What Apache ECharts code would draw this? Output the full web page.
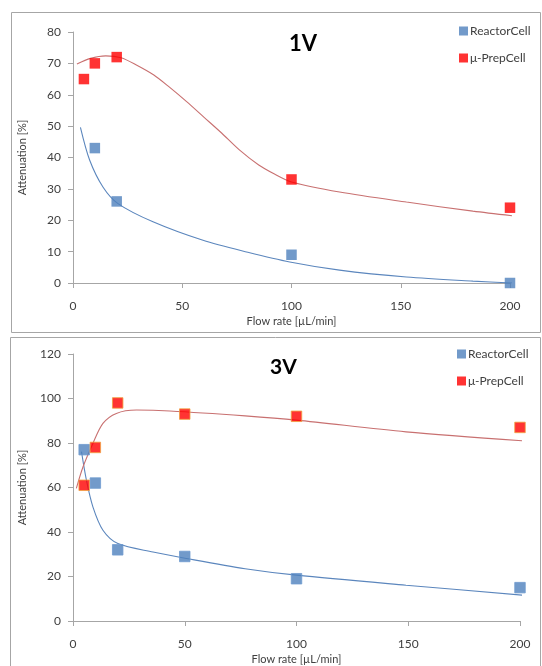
<!DOCTYPE html>
<html>
<head>
<meta charset="utf-8">
<script src="https://cdn.jsdelivr.net/npm/echarts@6/dist/echarts.min.js"></script>
<style>
  html, body { margin: 0; padding: 0; background: #fff; }
  #chart { width: 542px; height: 666px; }
</style>
</head>
<body>
<div id="chart"></div>
<script>
// ---- 1V panel: measured points ----
const flow1Reactor = [10, 20, 100, 200];
const att1Reactor = [43, 26, 9, 0];
const flow1Prep = [5, 10, 20, 100, 200];
const att1Prep = [65, 70, 72, 33, 24];

// 1V trend curves (sampled along the fitted lines)
const trend1ReactorX = [3.4, 7.6, 13.7, 20.6, 36.6, 59.5, 80, 99.2, 122, 152.6, 183, 201.4];
const trend1ReactorY = [49.6, 39.2, 30.6, 25.3, 19.5, 13.6, 9.8, 6.7, 4.1, 1.9, 0.6, 0];
const trend1PrepX = [1.8, 8, 15, 22, 29, 37, 44, 52, 60, 68, 76, 85, 92, 100, 122, 152.6, 183, 201.4];
const trend1PrepY = [69.8, 71.6, 72.4, 71.8, 69.5, 66.3, 62.5, 57.8, 52.8, 47.8, 42.5, 37.6, 34.8, 32.2, 29, 25.8, 22.9, 21.4];

// ---- 3V panel: measured points ----
const flow3 = [5, 10, 20, 50, 100, 200];
const att3Reactor = [77, 62, 32, 29, 19, 15];
const att3Prep = [61, 78, 98, 93, 92, 87];

// 3V trend curves (sampled along the fitted lines)
const trend3ReactorX = [3.8, 6, 8.9, 13.4, 20.1, 35.8, 50.7, 77, 100, 149, 201.3];
const trend3ReactorY = [76.1, 63.3, 51.3, 40.8, 34.8, 31, 28.1, 23.5, 20.6, 16.1, 11.6];
const trend3PrepX = [1.5, 4.5, 8.9, 13.4, 19.4, 28.4, 43.3, 77, 100, 149, 201.3];
const trend3PrepY = [59.6, 69.3, 79.8, 88.8, 93.3, 94.8, 94.4, 92.2, 90.3, 85, 81];

const xTicks = [0, 50, 100, 150, 200];
const seriesNames = ['ReactorCell', 'μ-PrepCell'];

const BLUE = '#4f81bd';
const RED = '#ff0000';
const BLUE_LINE = '#5b86bd';
const RED_LINE = '#c87070';
const FONT = 'Lato, "Open Sans", sans-serif';
const AXIS_GREY = '#a6a6a6';
const TEXT = '#404040';

const zip = (xs, ys) => xs.map((x, i) => [x, ys[i]]);

function valueAxis(gridIndex, extra) {
  return Object.assign({
    type: 'value',
    gridIndex: gridIndex,
    splitLine: { show: false },
    axisLine: { show: true, lineStyle: { color: AXIS_GREY, width: 1 } },
    axisTick: { show: true, length: 5, lineStyle: { color: AXIS_GREY } },
    axisLabel: { color: TEXT, fontFamily: FONT, fontSize: 12 },
    nameLocation: 'middle',
    nameTextStyle: { color: TEXT, fontFamily: FONT, fontSize: 11 }
  }, extra);
}

function xAxisFor(gridIndex) {
  return valueAxis(gridIndex, {
    min: xTicks[0], max: xTicks[xTicks.length - 1], interval: 50,
    name: 'Flow rate [µL/min]', nameGap: 33,
    axisLabel: { color: TEXT, fontFamily: FONT, fontSize: 12, margin: 17 }
  });
}

function trend(name, data, color, xi, yi) {
  return {
    type: 'line', name: name + ' trend', xAxisIndex: xi, yAxisIndex: yi,
    data: data, smooth: 0.3, showSymbol: false, symbol: 'none',
    lineStyle: { color: color, width: 1.1 }, silent: true, z: 1
  };
}

function points(name, data, color, xi, yi, border) {
  return {
    type: 'scatter', name: name, xAxisIndex: xi, yAxisIndex: yi,
    data: data, symbol: 'rect', symbolSize: 10.5,
    itemStyle: { color: color, borderColor: border || color, borderWidth: border ? 1 : 0 },
    z: 3
  };
}

function legendAt(left, top) {
  return {
    data: seriesNames, orient: 'vertical', left: left, top: top, padding: 0, itemGap: 15,
    itemWidth: 9, itemHeight: 9, icon: 'rect',
    textStyle: { color: TEXT, fontFamily: FONT, fontSize: 12, padding: [0, 0, 0, -3] }
  };
}

const chart = echarts.init(document.getElementById('chart'), null, { renderer: 'canvas' });

chart.setOption({
  animation: false,
  backgroundColor: '#fff',
  graphic: [
    { type: 'rect', shape: { x: 11.5, y: 12.5, width: 529, height: 320 },
      style: { fill: 'none', stroke: AXIS_GREY, lineWidth: 1 }, z: -1 },
    { type: 'rect', shape: { x: 10.5, y: 337.5, width: 530, height: 340 },
      style: { fill: 'none', stroke: AXIS_GREY, lineWidth: 1 }, z: -1 }
  ],
  title: [
    { text: '1V', left: 284, top: 28,
      textStyle: { fontFamily: FONT, fontSize: 22, fontWeight: 'bold', color: '#000' } },
    { text: '3V', left: 265, top: 352,
      textStyle: { fontFamily: FONT, fontSize: 21, fontWeight: 'bold', color: '#000' } }
  ],
  legend: [legendAt(459, 25), legendAt(457, 348)],
  grid: [
    { left: 73, right: 32, top: 32, bottom: 383, containLabel: false },
    { left: 73, right: 22, top: 354, bottom: 45, containLabel: false }
  ],
  xAxis: [xAxisFor(0), xAxisFor(1)],
  yAxis: [
    valueAxis(0, { min: 0, max: 80, interval: 10, name: 'Attenuation [%]', nameGap: 45,
      axisLabel: { color: TEXT, fontFamily: FONT, fontSize: 12, margin: 12 } }),
    valueAxis(1, { min: 0, max: 120, interval: 20, name: 'Attenuation [%]', nameGap: 45,
      axisLabel: { color: TEXT, fontFamily: FONT, fontSize: 12, margin: 12 } })
  ],
  series: [
    trend(seriesNames[0], zip(trend1ReactorX, trend1ReactorY), BLUE_LINE, 0, 0),
    trend(seriesNames[1], zip(trend1PrepX, trend1PrepY), RED_LINE, 0, 0),
    points(seriesNames[0], zip(flow1Reactor, att1Reactor), BLUE, 0, 0),
    points(seriesNames[1], zip(flow1Prep, att1Prep), RED, 0, 0),
    trend(seriesNames[0], zip(trend3ReactorX, trend3ReactorY), BLUE_LINE, 1, 1),
    trend(seriesNames[1], zip(trend3PrepX, trend3PrepY), RED_LINE, 1, 1),
    points(seriesNames[0], zip(flow3, att3Reactor), BLUE, 1, 1, '#6f9bd0'),
    points(seriesNames[1], zip(flow3, att3Prep), RED, 1, 1, '#f0a040')
  ]
});
</script>
</body>
</html>
